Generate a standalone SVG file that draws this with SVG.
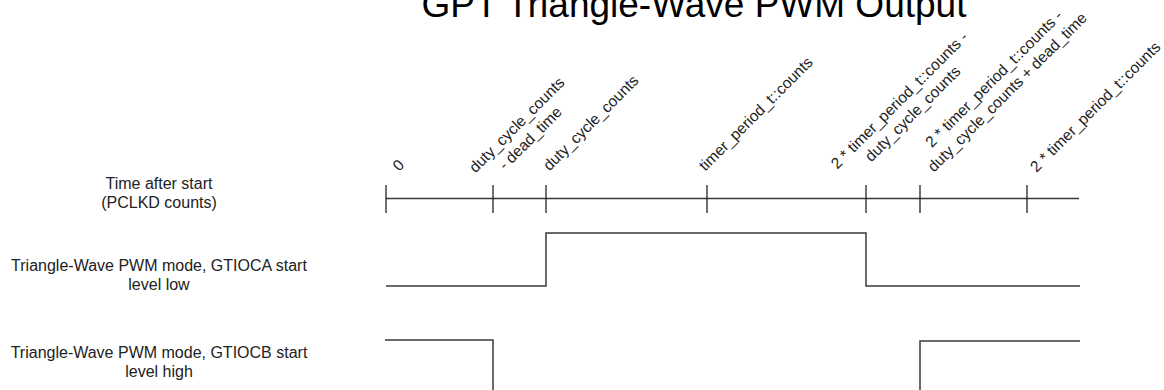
<svg xmlns="http://www.w3.org/2000/svg" width="1164" height="390" viewBox="0 0 1164 390">
<style>
.t{font-family:"Liberation Sans",Arial,sans-serif;fill:#222}
.lbl{font-size:16px;text-anchor:middle}
.rot{font-size:15.5px;text-anchor:middle}
.ln{fill:none;stroke:#3a3a3a;stroke-width:1.5}
.tk{stroke:#222;stroke-width:1.3}
</style>
<rect width="1164" height="390" fill="#fff"/>
<g id="title"><text class="t" x="694" y="17" font-size="37" text-anchor="middle" style="fill:#000">GPT Triangle-Wave PWM Output</text></g>
<g id="row-labels">
<g id="label-time"><text class="t lbl" x="159" y="189">Time after start</text><text class="t lbl" x="159" y="208">(PCLKD counts)</text></g>
<g id="label-gtioca"><text class="t lbl" x="159" y="270.5">Triangle-Wave PWM mode, GTIOCA start</text><text class="t lbl" x="159" y="289.5">level low</text></g>
<g id="label-gtiocb"><text class="t lbl" x="159" y="357.5">Triangle-Wave PWM mode, GTIOCB start</text><text class="t lbl" x="159" y="376.5">level high</text></g>
</g>
<g id="tick-labels">
<g id="tl-0" transform="translate(402,169) rotate(-45)"><text class="t rot">0</text></g>
<g id="tl-dc-dt" transform="translate(520.5,128.5) rotate(-45)"><text class="t rot">duty_cycle_counts</text><text class="t rot" y="19">- dead_time</text></g>
<g id="tl-dc" transform="translate(594.5,126.5) rotate(-45)"><text class="t rot">duty_cycle_counts</text></g>
<g id="tl-tp" transform="translate(759.5,117.5) rotate(-45)"><text class="t rot">timer_period_t::counts</text></g>
<g id="tl-2tp-dc" transform="translate(903,104) rotate(-45)"><text class="t rot">2 * timer_period_t::counts -</text><text class="t rot" y="19">duty_cycle_counts</text></g>
<g id="tl-2tp-dc-dt" transform="translate(997.5,82.5) rotate(-45)"><text class="t rot">2 * timer_period_t::counts -</text><text class="t rot" y="19">duty_cycle_counts + dead_time</text></g>
<g id="tl-2tp" transform="translate(1099,110.5) rotate(-45)"><text class="t rot">2 * timer_period_t::counts</text></g>
</g>
<g id="axis">
<line class="ln" x1="386" y1="198.5" x2="1079" y2="198.5"/>
<line class="tk" x1="386" y1="185" x2="386" y2="213"/>
<line class="tk" x1="493" y1="185" x2="493" y2="213"/>
<line class="tk" x1="546" y1="185" x2="546" y2="213"/>
<line class="tk" x1="707" y1="185" x2="707" y2="213"/>
<line class="tk" x1="866" y1="185" x2="866" y2="213"/>
<line class="tk" x1="920" y1="185" x2="920" y2="213"/>
<line class="tk" x1="1027" y1="185" x2="1027" y2="213"/>
</g>
<g id="connectors">
<polyline id="wave-gtioca" class="ln" points="386,286 546,286 546,233 866,233 866,286 1080,286"/>
<polyline id="wave-gtiocb-a" class="ln" points="385,340 493,340 493,392"/>
<polyline id="wave-gtiocb-b" class="ln" points="920,392 920,341 1080,341"/>
</g>
</svg>
